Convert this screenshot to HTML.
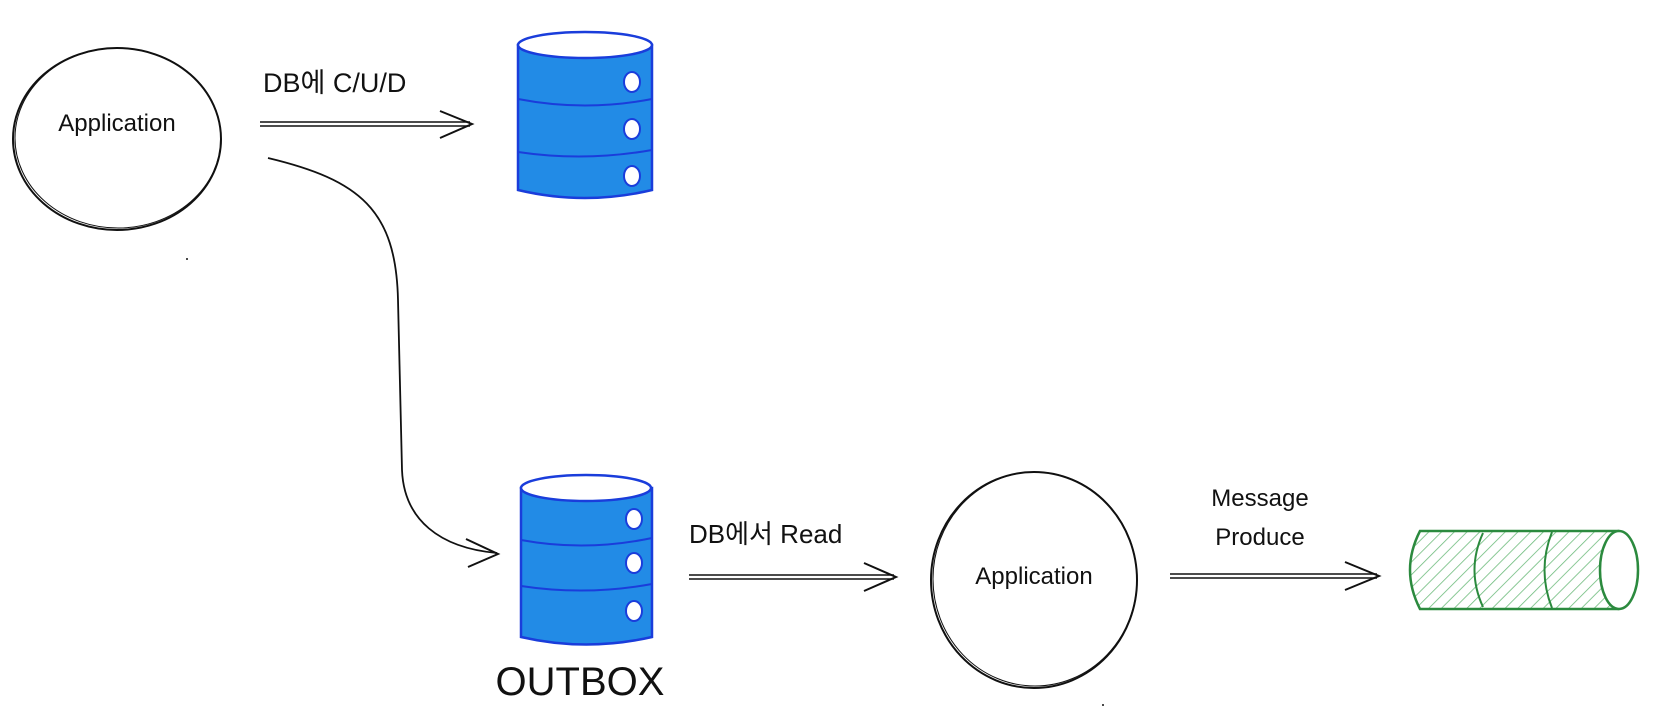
<!DOCTYPE html>
<html><head><meta charset="utf-8"><style>
html,body{margin:0;padding:0;background:#fff;}
svg{display:block;}
text{font-family:"Liberation Sans","Noto Sans CJK KR",sans-serif;fill:#111;}
</style></head><body>
<svg width="1663" height="715" viewBox="0 0 1663 715" xmlns="http://www.w3.org/2000/svg">
<defs>
<pattern id="hatch" width="9" height="9" patternUnits="userSpaceOnUse" patternTransform="rotate(45)">
<rect width="9" height="9" fill="#fff"/>
<line x1="0" y1="0" x2="0" y2="9" stroke="#2f9e44" stroke-width="1.6" opacity="0.7"/>
</pattern>
</defs>
<!-- circle 1 -->
<ellipse cx="117" cy="139" rx="104" ry="91" fill="none" stroke="#111" stroke-width="2"/>
<ellipse cx="118" cy="138" rx="103" ry="90" fill="none" stroke="#111" stroke-width="1"/>
<text x="117" y="131" font-size="24" text-anchor="middle">Application</text>
<circle cx="187" cy="259" r="1" fill="#111"/>
<!-- label 1 -->
<text x="263" y="92" font-size="27">DB에 C/U/D</text>
<!-- arrow 1 -->
<line x1="260" y1="122" x2="470" y2="122" stroke="#111" stroke-width="1.5"/>
<line x1="260" y1="126" x2="470" y2="126" stroke="#111" stroke-width="1.5"/>
<polyline points="440,111 472,124 440,138" fill="none" stroke="#111" stroke-width="2"/>
<!-- DB 1 -->
<path d="M518,45 L518,190 Q585,206 652,190 L652,45 Z" fill="#228be6" stroke="#1a3ddb" stroke-width="2.5"/>
<ellipse cx="585" cy="45" rx="67" ry="13" fill="#fff" stroke="#1a3ddb" stroke-width="2.5"/>
<path d="M518,99 Q585,112 652,99" fill="none" stroke="#1a3ddb" stroke-width="2"/>
<path d="M518,152 Q585,162 652,150" fill="none" stroke="#1a3ddb" stroke-width="2"/>
<ellipse cx="632" cy="82" rx="8" ry="10" fill="#fff" stroke="#1a3ddb" stroke-width="2"/>
<ellipse cx="632" cy="129" rx="8" ry="10" fill="#fff" stroke="#1a3ddb" stroke-width="2"/>
<ellipse cx="632" cy="176" rx="8" ry="10" fill="#fff" stroke="#1a3ddb" stroke-width="2"/>
<!-- curve -->
<path d="M268,158 C360,180 396,210 398,300 L402,470 C404,520 440,548 497,553" fill="none" stroke="#111" stroke-width="1.8"/>
<polyline points="466,539 498,554 468,567" fill="none" stroke="#111" stroke-width="2"/>
<!-- DB 2 -->
<path d="M521,488 L521,637 Q586,652 652,637 L652,488 Z" fill="#228be6" stroke="#1a3ddb" stroke-width="2.5"/>
<ellipse cx="586" cy="488" rx="65" ry="13" fill="#fff" stroke="#1a3ddb" stroke-width="2.5"/>
<path d="M521,540 Q586,552 652,538" fill="none" stroke="#1a3ddb" stroke-width="2"/>
<path d="M521,586 Q586,596 652,584" fill="none" stroke="#1a3ddb" stroke-width="2"/>
<ellipse cx="634" cy="519" rx="8" ry="10" fill="#fff" stroke="#1a3ddb" stroke-width="2"/>
<ellipse cx="634" cy="563" rx="8" ry="10" fill="#fff" stroke="#1a3ddb" stroke-width="2"/>
<ellipse cx="634" cy="611" rx="8" ry="10" fill="#fff" stroke="#1a3ddb" stroke-width="2"/>
<text x="580" y="695" font-size="40" text-anchor="middle">OUTBOX</text>
<!-- label 2 -->
<text x="689" y="543" font-size="26">DB에서 Read</text>
<!-- arrow 2 -->
<line x1="689" y1="575" x2="894" y2="575" stroke="#111" stroke-width="1.5"/>
<line x1="689" y1="579" x2="894" y2="579" stroke="#111" stroke-width="1.5"/>
<polyline points="864,563 896,577 864,591" fill="none" stroke="#111" stroke-width="2"/>
<!-- circle 2 -->
<ellipse cx="1034" cy="580" rx="103" ry="108" fill="none" stroke="#111" stroke-width="2"/>
<ellipse cx="1035" cy="579" rx="102" ry="107" fill="none" stroke="#111" stroke-width="1"/>
<text x="1034" y="584" font-size="24" text-anchor="middle">Application</text>
<circle cx="1103" cy="705" r="1" fill="#111"/>
<!-- label 3 -->
<text x="1260" y="506" font-size="24" text-anchor="middle">Message</text>
<text x="1260" y="545" font-size="24" text-anchor="middle">Produce</text>
<!-- arrow 3 -->
<line x1="1170" y1="574" x2="1377" y2="574" stroke="#111" stroke-width="1.5"/>
<line x1="1170" y1="578" x2="1377" y2="578" stroke="#111" stroke-width="1.5"/>
<polyline points="1345,562 1379,576 1345,590" fill="none" stroke="#111" stroke-width="2"/>
<!-- queue cylinder -->
<path d="M1420,531 L1618,531 L1618,609 L1420,609 Q1400,570 1420,531 Z" fill="url(#hatch)" stroke="#2b8a3e" stroke-width="2.5"/>
<path d="M1483,533 Q1466,570 1483,607" fill="none" stroke="#2b8a3e" stroke-width="2"/>
<path d="M1552,532 Q1537,570 1552,608" fill="none" stroke="#2b8a3e" stroke-width="2"/>
<ellipse cx="1619" cy="570" rx="19" ry="39" fill="#fff" stroke="#2b8a3e" stroke-width="2.5"/>
</svg>
</body></html>
